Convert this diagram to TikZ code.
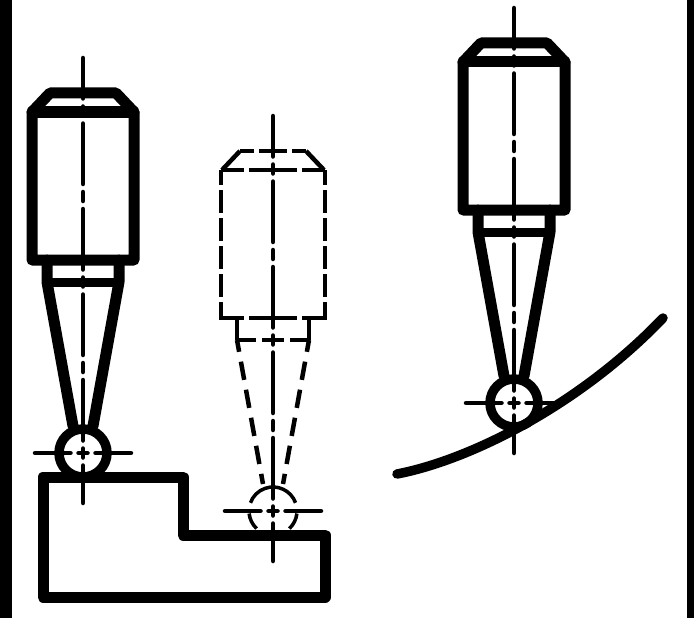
\documentclass[tikz,border=0pt]{standalone}
\usepackage{tikz}

\tikzset{
  heavy/.style={line width=11pt, line join=round, line cap=round},
  thindash/.style={line width=4.5pt},
  axisline/.style={line width=4.5pt, line cap=round,
    dash pattern=on 4.5pt off 8pt on 60.5pt off 8pt on 4.5pt off 0pt}
}

% centre lines of a probe, drawn outwards from the ball centre
\newcommand{\probeaxes}{
  \coordinate (C) at (0,0);
  \coordinate (N) at (0,-395);
  \coordinate (S) at (0,50);
  \coordinate (W) at (-48,0);
  \coordinate (E) at (48,0);
  \foreach \tip in {N,S,W,E}
    \draw[axisline] (C) -- (\tip);
}

\begin{document}
\begin{tikzpicture}[x=1pt,y=-1pt]
\useasboundingbox (0,0) rectangle (694,618);

% side bars
\fill (0,0) rectangle (12,618);
\fill (687,0) rectangle (694,618);

% solid probe on the block
\begin{scope}[shift={(83,453)}]
  \probeaxes
  \draw[heavy] (-51,-341) -- (-33,-360) -- (33,-360) -- (51,-341) -- (51,-193) -- (-51,-193) -- cycle;
  \draw[heavy] (-51,-341) -- (51,-341);
  \draw[heavy] (-36,-193) -- (-36,-171) -- (-10,-27);
  \draw[heavy] (36,-193) -- (36,-171) -- (10,-27);
  \draw[heavy, line width=9pt] (-36,-171) -- (36,-171);
  \draw[heavy, line width=9.5pt] (0,0) circle (24);
\end{scope}

% dashed probe
\begin{scope}[shift={(273,511)}]
  \probeaxes
  \draw[thindash] (-51,-341) -- (-33,-360);
  \draw[thindash] (51,-341) -- (33,-360);
  \draw[thindash, dash pattern=on 14pt off 5pt on 28pt off 5pt on 14pt off 0pt] (-33,-360) -- (33,-360);
  \draw[thindash, dash pattern=on 23pt off 5pt on 48pt off 5pt on 23pt off 0pt] (-52,-341) -- (52,-341);
  \draw[thindash, dash pattern=on 23pt off 5pt on 48pt off 5pt on 23pt off 0pt] (-52,-193) -- (52,-193);
  \draw[thindash, dash pattern=on 23pt off 5pt, dash phase=8pt] (-52,-341) -- (-52,-191);
  \draw[thindash, dash pattern=on 23pt off 5pt, dash phase=8pt] (52,-341) -- (52,-191);
  \draw[thindash] (-36,-193) -- (-36,-171);
  \draw[thindash] (36,-193) -- (36,-171);
  \draw[thindash, dash pattern=on 19pt off 6pt on 22pt off 6pt on 19pt off 0pt] (-36,-171) -- (36,-171);
  \draw[thindash, dash pattern=on 18.5pt off 10pt, dash phase=6.5pt] (-36,-171) -- (-10,-27);
  \draw[thindash, dash pattern=on 18.5pt off 10pt, dash phase=6.5pt] (36,-171) -- (10,-27);
  % ball, broken where the centre line and the block cross it
  \draw[line width=3.5pt] (-20:24) arc[start angle=-20,end angle=-160,radius=24];
  \draw[line width=3.5pt] (174:24) arc[start angle=174,end angle=133,radius=24];
  \draw[line width=3.5pt] (6:24) arc[start angle=6,end angle=47,radius=24];
\end{scope}

% solid probe on the curve
\begin{scope}[shift={(514,403)}]
  \probeaxes
  \draw[heavy] (-51,-341) -- (-33,-360) -- (33,-360) -- (51,-341) -- (51,-193) -- (-51,-193) -- cycle;
  \draw[heavy] (-51,-341) -- (51,-341);
  \draw[heavy] (-36,-193) -- (-36,-171) -- (-10,-27);
  \draw[heavy] (36,-193) -- (36,-171) -- (10,-27);
  \draw[heavy, line width=9pt] (-36,-171) -- (36,-171);
  \draw[heavy, line width=9.5pt] (0,0) circle (24);
\end{scope}

% stepped block
\draw[heavy] (43,477) -- (183,477) -- (183,535) -- (325,535) -- (325,597) -- (43,597) -- cycle;

% curved surface
\draw[heavy, line width=9.5pt] (397,474) .. controls (470,460) and (580,405) .. (663,318);

\end{tikzpicture}
\end{document}
